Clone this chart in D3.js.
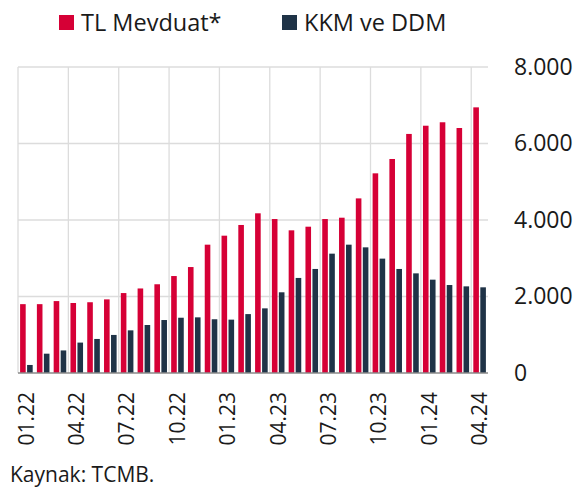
<!DOCTYPE html>
<html>
<head>
<meta charset="utf-8">
<script src="https://cdn.jsdelivr.net/npm/d3@7"></script>
<style>
  body { margin: 0; background: #fff; }
  svg { display: block; font-family: "Open Sans", sans-serif; }
</style>
</head>
<body>
<div id="chart"></div>
<script>
const months = ["01.22","02.22","03.22","04.22","05.22","06.22","07.22","08.22","09.22","10.22","11.22","12.22",
  "01.23","02.23","03.23","04.23","05.23","06.23","07.23","08.23","09.23","10.23","11.23","12.23",
  "01.24","02.24","03.24","04.24"];
const tlMevduat = [1800,1800,1880,1830,1850,1925,2090,2210,2320,2535,2770,3355,
  3590,3870,4175,4025,3730,3825,4025,4060,4565,5220,5595,6250,6465,6555,6405,6945];
const kkmDdm = [210,505,590,795,890,995,1115,1255,1385,1445,1455,1405,
  1395,1540,1690,2110,2485,2720,3120,3355,3285,2990,2720,2605,2440,2300,2265,2240];
const seriesNames = ["TL Mevduat*", "KKM ve DDM"];
const colors = ["#d60036", "#1f3347"];
const yTicks = [0, 2000, 4000, 6000, 8000];
const xTickLabels = ["01.22","04.22","07.22","10.22","01.23","04.23","07.23","10.23","01.24","04.24"];

const W = 586, H = 489;
const plotLeft = 18, plotRight = 488, plotTop = 67, plotBottom = 373;

const svg = d3.select("#chart").append("svg")
  .attr("width", W).attr("height", H);

const x0 = d3.scaleBand().domain(months).range([plotLeft, plotRight]).paddingInner(0.25).paddingOuter(0.125);
const x1 = d3.scaleBand().domain([0, 1]).range([0, x0.bandwidth()]).paddingInner(0.2);
const y = d3.scaleLinear().domain([0, 8000]).range([plotBottom, plotTop]);
const step = x0.step();

// grid
svg.append("g").selectAll("line")
  .data(yTicks.filter(d => d > 0))
  .join("line")
  .attr("x1", plotLeft).attr("x2", plotRight)
  .attr("y1", d => y(d)).attr("y2", d => y(d))
  .attr("stroke", "#dcdcdc").attr("stroke-width", 1.3);

svg.append("g").selectAll("line")
  .data(xTickLabels)
  .join("line")
  .attr("x1", d => x0(d) - x0.paddingOuter() * step)
  .attr("x2", d => x0(d) - x0.paddingOuter() * step)
  .attr("y1", plotTop).attr("y2", plotBottom)
  .attr("stroke", "#dcdcdc").attr("stroke-width", 1.3);

// bars
const data = months.map((m, i) => ({ m, vals: [tlMevduat[i], kkmDdm[i]] }));
svg.append("g").selectAll("g")
  .data(data)
  .join("g")
  .attr("transform", d => `translate(${x0(d.m)},0)`)
  .selectAll("rect")
  .data(d => d.vals.map((v, k) => ({ v, k })))
  .join("rect")
  .attr("x", d => x1(d.k))
  .attr("width", x1.bandwidth())
  .attr("y", d => y(d.v))
  .attr("height", d => y(0) - y(d.v))
  .attr("fill", d => colors[d.k]);

// baseline
svg.append("line")
  .attr("x1", plotLeft).attr("x2", plotRight)
  .attr("y1", plotBottom).attr("y2", plotBottom)
  .attr("stroke", "#8a8a8a").attr("stroke-width", 1.5);

// y axis labels (right)
const yAxis = d3.axisRight(y).tickValues(yTicks).tickSize(0).tickPadding(0)
  .tickFormat(d => d3.format(",")(d).replace(/,/g, "."));
svg.append("g")
  .attr("transform", `translate(514,0)`)
  .call(yAxis)
  .call(g => g.select(".domain").remove())
  .selectAll("text")
  .attr("font-family", "Open Sans, sans-serif")
  .attr("font-size", 23)
  .attr("fill", "#1a1a1a");

// x axis labels (rotated)
const xAxis = d3.axisBottom(x0).tickValues(xTickLabels).tickSize(0);
svg.append("g")
  .attr("transform", `translate(0,${plotBottom})`)
  .call(xAxis)
  .call(g => g.select(".domain").remove())
  .selectAll("text")
  .attr("font-family", "Open Sans, sans-serif")
  .attr("font-size", 21)
  .attr("fill", "#1a1a1a")
  .attr("text-anchor", "end")
  .attr("dy", "0.35em")
  .attr("transform", "translate(0,19) rotate(-90)")
  .attr("x", 0).attr("y", 0);

// legend
const legend = svg.append("g");
const legendX = [59, 282];
seriesNames.forEach((name, i) => {
  legend.append("rect")
    .attr("x", legendX[i]).attr("y", 15)
    .attr("width", 15).attr("height", 15)
    .attr("fill", colors[i]);
  legend.append("text")
    .attr("x", legendX[i] + 22).attr("y", 31)
    .attr("font-size", 23.5)
    .attr("fill", "#1a1a1a")
    .text(name);
});

// source
svg.append("text")
  .attr("x", 10).attr("y", 482)
  .attr("font-size", 21)
  .attr("fill", "#1a1a1a")
  .text("Kaynak: TCMB.");
</script>
</body>
</html>
